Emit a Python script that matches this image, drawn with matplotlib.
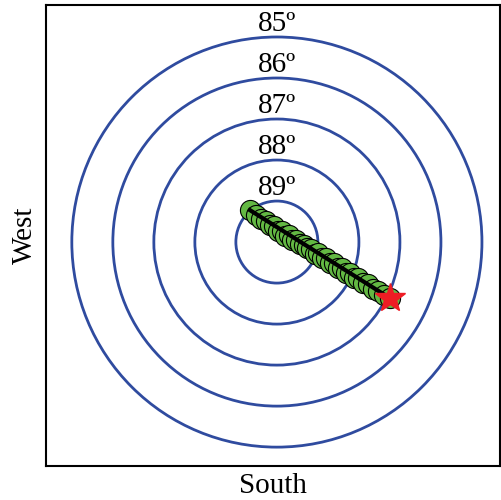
import numpy as np
import matplotlib.pyplot as plt
from matplotlib.patches import Circle

plt.rcParams['font.family'] = ['Liberation Serif', 'DejaVu Serif']

# elevation rings (deg) -> radius = 90 - elevation
ring_elev = [85, 86, 87, 88, 89]
ring_labels = ['85º', '86º', '87º', '88º', '89º']

# track positions, degrees from zenith (east-west, north-south offsets)
track_x = [-0.66, -0.51, -0.39, -0.27, -0.17, -0.07, 0.02, 0.12, 0.20, 0.29,
           0.37, 0.46, 0.56, 0.66, 0.73, 0.83, 0.93, 1.00, 1.10, 1.20,
           1.29, 1.39, 1.49, 1.59, 1.68, 1.78, 1.88, 1.98, 2.10, 2.22,
           2.34, 2.46, 2.61, 2.76]
track_y = [0.78, 0.67, 0.56, 0.52, 0.41, 0.39, 0.28, 0.27, 0.16, 0.17,
           0.06, 0.06, -0.05, -0.06, -0.15, -0.16, -0.28, -0.27, -0.40, -0.38,
           -0.52, -0.51, -0.64, -0.63, -0.76, -0.75, -0.88, -0.87, -0.99, -1.03,
           -1.14, -1.19, -1.30, -1.37]

fig = plt.figure(figsize=(5.02, 5.0), dpi=100)
ax = fig.add_axes([0.0916, 0.068, 0.9044, 0.922])

for elev, lab in zip(ring_elev, ring_labels):
    r = 90 - elev
    ax.add_patch(Circle((0, 0), r, fill=False, ec='#2f4b9f', lw=2))
    ax.text(0, r + 0.0, lab, ha='center', va='bottom', fontsize=21)

ax.plot(track_x, track_y, 'o', ms=14.5, mfc='#63b843', mec='black', mew=0.8)
ax.plot([track_x[0], track_x[-1]], [track_y[0], track_y[-1]], color='black', lw=3)
ax.plot(track_x[-1], track_y[-1], '*', ms=22, color='#ee1c24')

ax.set_xlim(-5.63, 5.44)
ax.set_ylim(-5.46, 5.78)
ax.set_xticks([])
ax.set_yticks([])
for s in ax.spines.values():
    s.set_linewidth(1.5)
ax.set_xlabel('South', fontsize=21, labelpad=5)
ax.set_ylabel('West', fontsize=21, labelpad=6)

fig.savefig('out.png', dpi=100)
